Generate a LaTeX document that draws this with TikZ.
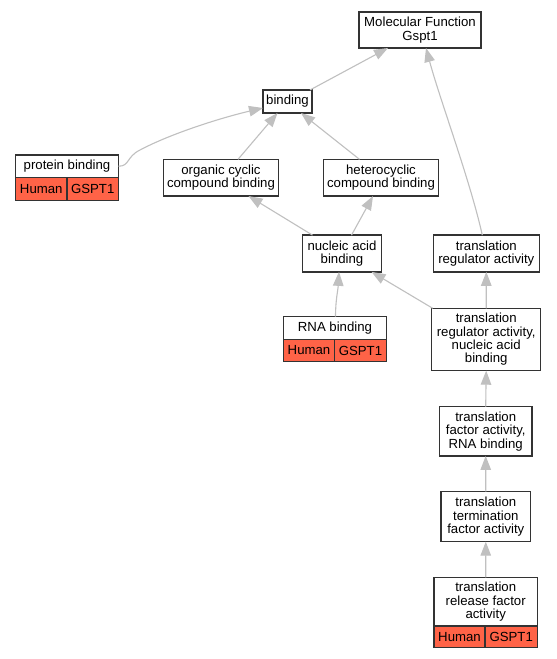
\documentclass[tikz,border=0pt]{standalone}
\usepackage{fontspec}
\setmainfont{Liberation Sans}
\usetikzlibrary{arrows.meta,calc}
\definecolor{edgegray}{HTML}{C0C0C0}
\definecolor{boxline}{HTML}{333333}
\definecolor{tomatored}{HTML}{FF6347}
\begin{document}
\begin{tikzpicture}[x=1pt,y=-1pt,
  font=\fontsize{13.2}{13.3}\selectfont,
  box/.style={draw=boxline, line width=1.4pt, fill=white, align=center, inner sep=0pt, outer sep=0pt},
  cell/.style={box, fill=tomatored},
  edge/.style={draw=edgegray, line width=1.1pt, -{Triangle[length=14pt,width=10.5pt]}}]
\useasboundingbox[fill=white] (0,0) rectangle (557,659);

% nodes
\node[box, minimum width=122pt, minimum height=36pt] (mf) at (420,30) {Molecular Function\\Gspt1};
\node[box, minimum width=49pt, minimum height=23pt] (bind) at (287.5,101.5) {binding};

\node[box, minimum width=103pt, minimum height=22.5pt] (pbt) at (67,166.25) {protein binding};
\node[cell, minimum width=51.5pt, minimum height=22.8pt] (pbh) at (41.25,188.9) {Human};
\node[cell, minimum width=51.5pt, minimum height=22.8pt] (pbg) at (92.75,188.9) {GSPT1};

\node[box, minimum width=115pt, minimum height=36.7pt] (occ) at (221,177.7) {organic cyclic\\compound binding};
\node[box, minimum width=115pt, minimum height=36.7pt] (het) at (381,177.7) {heterocyclic\\compound binding};

\node[box, minimum width=79pt, minimum height=36.7pt] (nab) at (342,253.5) {nucleic acid\\binding};
\node[box, minimum width=106pt, minimum height=36.7pt] (tra) at (486.3,253.5) {translation\\regulator activity};

\node[box, minimum width=103pt, minimum height=22.8pt] (rnat) at (335,327.9) {RNA binding};
\node[cell, minimum width=51pt, minimum height=22.4pt] (rnah) at (309,350.5) {Human};
\node[cell, minimum width=52pt, minimum height=22.4pt] (rnag) at (360.5,350.5) {GSPT1};

\node[box, minimum width=109pt, minimum height=62.4pt] (trnab) at (486.2,339.5) {translation\\regulator activity,\\nucleic acid\\binding};
\node[box, minimum width=92.7pt, minimum height=49.3pt] (tfa) at (485.7,431.3) {translation\\factor activity,\\RNA binding};
\node[box, minimum width=89.7pt, minimum height=50pt] (ttfa) at (485.8,516.7) {translation\\termination\\factor activity};

\node[box, minimum width=103.3pt, minimum height=48.7pt] (trfat) at (485.7,601.7) {translation\\release factor\\activity};
\node[cell, minimum width=51pt, minimum height=21.7pt] (trfah) at (459.5,636.9) {Human};
\node[cell, minimum width=52.3pt, minimum height=21.7pt] (trfag) at (511.2,636.9) {GSPT1};

% edges
\draw[edge] ($(bind.north east)+(-2,0)$) -- ($(mf.south west)+(29,0)$);
\draw[edge] (pbt.east) .. controls (130,166) and (126,157) .. (140,150)
  .. controls (170,134) and (220,118) .. ($(bind.west)+(0,6.5)$);
\draw[edge] ($(occ.north west)+(74.5,0)$) -- ($(bind.south west)+(14.5,0)$);
\draw[edge] ($(het.north west)+(36,0)$) -- ($(bind.south west)+(38,0)$);
\draw[edge] ($(nab.north west)+(10,0)$) -- ($(occ.south west)+(85,0)$);
\draw[edge] ($(nab.north west)+(49,0)$) -- ($(het.south west)+(49.5,0)$);
\draw[edge] ($(rnat.north west)+(52,0)$) .. controls ($(rnat.north west)+(52,-16)$) and ($(nab.south west)+(35.5,18)$) .. ($(nab.south west)+(36.5,0)$);
\draw[edge] ($(trnab.north west)+(1,0)$) -- ($(nab.south east)+(-10,0)$);
\draw[edge] (trnab.north) -- (tra.south);
\draw[edge] ($(tra.north west)+(49,0)$) .. controls (470,180) and (440,100) .. ($(mf.south west)+(67,0)$);
\draw[edge] (tfa.north) -- (trnab.south);
\draw[edge] (ttfa.north) -- (tfa.south);
\draw[edge] (trfat.north) -- (ttfa.south);
\end{tikzpicture}
\end{document}
